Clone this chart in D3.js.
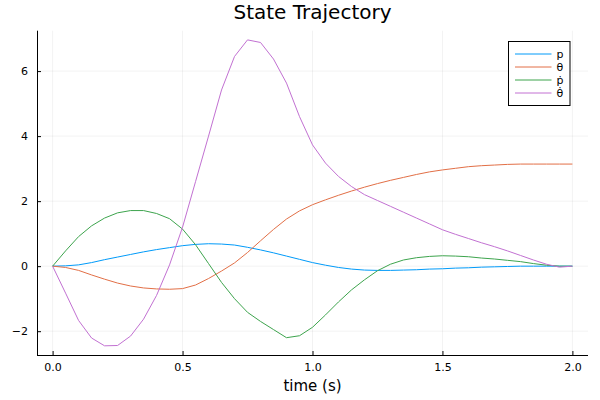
<!DOCTYPE html>
<html>
<head>
<meta charset="utf-8">
<script src="https://cdn.jsdelivr.net/npm/d3@7"></script>
<style>
  body { margin: 0; background: #fff; }
  text { font-family: "DejaVu Sans", sans-serif; fill: #000; }
</style>
</head>
<body>
<div id="chart"></div>
<script>
(function () {
  "use strict";

  // time steps (s)
  var time = [0.0, 0.05, 0.1, 0.15, 0.2, 0.25, 0.3, 0.35, 0.4, 0.45,
    0.5, 0.55, 0.6, 0.65, 0.7, 0.75, 0.8, 0.85, 0.9, 0.95,
    1.0, 1.05, 1.1, 1.15, 1.2, 1.25, 1.3, 1.35, 1.4, 1.45,
    1.5, 1.55, 1.6, 1.65, 1.7, 1.75, 1.8, 1.85, 1.9, 1.95, 2.0];

  var p = [0, 0.01, 0.04, 0.11, 0.2, 0.28, 0.36, 0.44, 0.51, 0.57,
    0.63, 0.67, 0.69, 0.68, 0.65, 0.58, 0.5, 0.41, 0.31, 0.21,
    0.11, 0.03, -0.04, -0.09, -0.12, -0.13, -0.13, -0.12, -0.11, -0.09,
    -0.08, -0.06, -0.05, -0.03, -0.02, -0.01, 0, 0, 0, 0, 0];

  var theta = [0, -0.04, -0.13, -0.27, -0.4, -0.52, -0.61, -0.67, -0.7, -0.71,
    -0.69, -0.58, -0.38, -0.15, 0.1, 0.42, 0.78, 1.13, 1.45, 1.7,
    1.89, 2.04, 2.18, 2.31, 2.43, 2.54, 2.64, 2.73, 2.82, 2.9,
    2.96, 3.01, 3.06, 3.09, 3.11, 3.13, 3.14, 3.14, 3.14, 3.14, 3.14];

  var pdot = [0, 0.47, 0.91, 1.24, 1.48, 1.64, 1.71, 1.71, 1.62, 1.46,
    1.14, 0.66, 0.08, -0.5, -1.0, -1.42, -1.7, -1.95, -2.2, -2.14,
    -1.88, -1.5, -1.1, -0.73, -0.42, -0.14, 0.06, 0.19, 0.26, 0.3,
    0.32, 0.31, 0.29, 0.25, 0.22, 0.18, 0.14, 0.08, 0.03, 0, 0];

  var thetadot = [0, -0.83, -1.67, -2.21, -2.45, -2.44, -2.15, -1.63, -0.9, 0.04,
    1.2, 2.6, 4.0, 5.42, 6.45, 6.96, 6.88, 6.37, 5.63, 4.6,
    3.73, 3.17, 2.76, 2.45, 2.2, 2.02, 1.84, 1.66, 1.48, 1.3,
    1.12, 0.98, 0.85, 0.72, 0.6, 0.47, 0.33, 0.19, 0.06, -0.03, 0];

  var seriesNames = ["p", "θ", "ṗ", "θ̇"],
    xTicks = [0, 0.5, 1.0, 1.5, 2.0],
    yTicks = [-2, 0, 2, 4, 6];

  var w = 600,
    h = 400,
    left = 37,
    right = 588,
    top = 30.7,
    bottom = 355,
    colors = ["#009af9", "#e26f46", "#3da44d", "#c271d2"],
    svg, x, y;

  function createSvg() {
    svg = d3.select("#chart")
      .append("svg")
      .attr("width", w)
      .attr("height", h);
  }

  function getScales() {
    var tMin = d3.min(time), tMax = d3.max(time),
      all = p.concat(theta, pdot, thetadot),
      vMin = d3.min(all), vMax = d3.max(all),
      tPad = (tMax - tMin) * 0.03,
      vPad = (vMax - vMin) * 0.03;
    x = d3.scaleLinear().domain([tMin - tPad, tMax + tPad]).range([left, right]);
    y = d3.scaleLinear().domain([vMin - vPad, vMax + vPad]).range([bottom, top]);
  }

  function drawGrid() {
    var g = svg.append("g").attr("class", "grid");
    g.selectAll(".gx").data(xTicks).enter().append("line")
      .attr("x1", function(d) { return x(d); })
      .attr("x2", function(d) { return x(d); })
      .attr("y1", top).attr("y2", bottom)
      .style("stroke", "#000").style("stroke-opacity", 0.1).style("stroke-width", 0.5);
    g.selectAll(".gy").data(yTicks).enter().append("line")
      .attr("y1", function(d) { return y(d); })
      .attr("y2", function(d) { return y(d); })
      .attr("x1", left).attr("x2", right)
      .style("stroke", "#000").style("stroke-opacity", 0.1).style("stroke-width", 0.5);
  }

  function drawAxes() {
    var xAxis = svg.append("g")
      .attr("transform", "translate(0," + bottom + ")")
      .call(d3.axisBottom(x).tickValues(xTicks).tickFormat(d3.format(".1f")).tickSizeInner(-4).tickSizeOuter(0).tickPadding(8));
    var yAxis = svg.append("g")
      .attr("transform", "translate(" + left + ",0)")
      .call(d3.axisLeft(y).tickValues(yTicks).tickFormat(d3.format("d")).tickSizeInner(-4).tickSizeOuter(0).tickPadding(9));
    [xAxis, yAxis].forEach(function(a) {
      a.select(".domain").style("stroke", "#000").style("stroke-width", 1);
      a.selectAll(".tick line").style("stroke", "#000");
      a.selectAll("text").style("font-size", "11px").style("font-family", "DejaVu Sans, sans-serif");
    });
    // domain line should span the full plot area
    xAxis.select(".domain").attr("d", "M" + left + ",0.5H" + right);
    yAxis.select(".domain").attr("d", "M0.5," + top + "V" + bottom);
  }

  function drawLines() {
    var series = [p, theta, pdot, thetadot];
    var line = d3.line()
      .x(function(d, i) { return x(time[i]); })
      .y(function(d) { return y(d); });
    svg.append("g").selectAll(".series")
      .data(series)
      .enter().append("path")
      .attr("class", "series")
      .attr("d", line)
      .style("fill", "none")
      .style("stroke", function(d, i) { return colors[i]; })
      .style("stroke-width", 1);
  }

  function drawLegend() {
    var g = svg.append("g").attr("transform", "translate(508.5,41.5)");
    g.append("rect")
      .attr("width", 61.5).attr("height", 64)
      .style("fill", "#fff").style("stroke", "#000").style("stroke-width", 1);
    var rows = g.selectAll(".row").data(seriesNames)
      .enter().append("g")
      .attr("transform", function(d, i) { return "translate(0," + (12.5 + i * 13) + ")"; });
    rows.append("line")
      .attr("x1", 6.5).attr("x2", 43)
      .style("stroke", function(d, i) { return colors[i]; })
      .style("stroke-width", 1);
    rows.append("text")
      .attr("x", 48).attr("y", 4)
      .style("font-size", "11px")
      .text(function(d) { return d; });
  }

  function drawTitles() {
    svg.append("text")
      .attr("x", (left + right) / 2).attr("y", 19)
      .attr("text-anchor", "middle")
      .style("font-size", "20px")
      .text("State Trajectory");
    svg.append("text")
      .attr("x", (left + right) / 2).attr("y", 391)
      .attr("text-anchor", "middle")
      .style("font-size", "15px")
      .text("time (s)");
  }

  createSvg();
  getScales();
  drawGrid();
  drawAxes();
  drawLines();
  drawLegend();
  drawTitles();
})();
</script>
</body>
</html>
